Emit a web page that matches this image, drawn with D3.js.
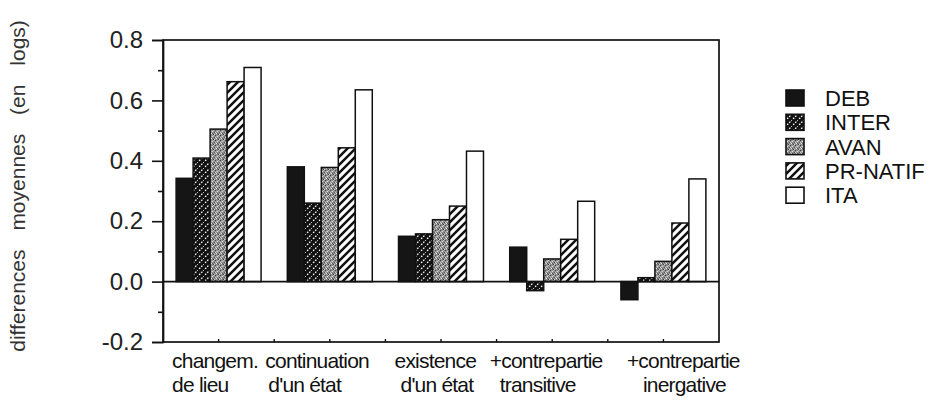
<!DOCTYPE html>
<html><head><meta charset="utf-8">
<script src="https://cdn.jsdelivr.net/npm/d3@7"></script>
<style>
html,body{margin:0;padding:0;background:#fff;}
svg{display:block;}
text{font-family:"Liberation Sans",Arial,Helvetica,sans-serif;}
</style></head>
<body>
<svg id="chart" width="934" height="401"></svg>
<script>
// ---- data ----
const categories = ["changem.|de lieu", "continuation|d'un état", "existence|d'un état", "+contrepartie|transitive", "+contrepartie|inergative"];
const series = ["DEB", "INTER", "AVAN", "PR-NATIF", "ITA"];
const DEB     = [0.342, 0.380, 0.150, 0.114, -0.060];
const INTER   = [0.409, 0.260, 0.158, -0.030, 0.013];
const AVAN    = [0.505, 0.378, 0.205, 0.075, 0.067];
const PRNATIF = [0.662, 0.443, 0.250, 0.140, 0.194];
const ITA     = [0.709, 0.635, 0.432, 0.266, 0.340];
const yTicks = [-0.2, 0.0, 0.2, 0.4, 0.6, 0.8];
const yMinorTicks = [-0.1, 0.1, 0.3, 0.5, 0.7];
const yLabel = "differences moyennes (en logs)";

const values = [DEB, INTER, AVAN, PRNATIF, ITA];
// layout offsets for the hand-placed category labels (px)
const labelShift = [-4, -22, -4, -20, 6];
const line2Indent = [0, 3, 6, 10, 16];

const svg = d3.select("#chart");
const defs = svg.append("defs");

// patterns
const pInter = defs.append("pattern").attr("id","pInter").attr("patternUnits","userSpaceOnUse")
  .attr("width",6).attr("height",6);
pInter.append("rect").attr("width",6).attr("height",6).attr("fill","#111");
pInter.append("path").attr("d","M-1,7 L7,-1").attr("stroke","#fff").attr("stroke-width",1.3)
  .attr("stroke-dasharray","1.6 1.4");

const pAvan = defs.append("pattern").attr("id","pAvan").attr("patternUnits","userSpaceOnUse")
  .attr("width",5).attr("height",5);
pAvan.append("rect").attr("width",5).attr("height",5).attr("fill","#8f8f8f");
[[0,0,"#444"],[2,1,"#ddd"],[4,2,"#555"],[1,3,"#e6e6e6"],[3,4,"#3a3a3a"],[3,0,"#bbb"],[0,2,"#c8c8c8"],[2,3,"#5a5a5a"],[4,4,"#cfcfcf"],[1,1,"#a5a5a5"]]
  .forEach(([x,y,c]) => pAvan.append("rect").attr("x",x).attr("y",y).attr("width",1).attr("height",1).attr("fill",c));

const pPr = defs.append("pattern").attr("id","pPr").attr("patternUnits","userSpaceOnUse")
  .attr("width",8).attr("height",8);
pPr.append("rect").attr("width",8).attr("height",8).attr("fill","#fff");
pPr.append("path").attr("d","M-2,10 L10,-2 M-2,2 L2,-2 M6,10 L10,6").attr("stroke","#111").attr("stroke-width",2.5);

const fills = {"DEB":"#151515","INTER":"url(#pInter)","AVAN":"url(#pAvan)","PR-NATIF":"url(#pPr)","ITA":"#fff"};

// scales
const x = d3.scaleBand().domain(categories).range([163, 719]).paddingInner(0.236).paddingOuter(0.118);
const xs = d3.scaleBand().domain(series).range([0, x.bandwidth()]);
const y = d3.scaleLinear().domain([-0.2, 0.8]).range([342, 40]);

// frame
svg.append("rect").attr("x",163).attr("y",y(0.8)).attr("width",719-163).attr("height",y(-0.2)-y(0.8))
  .attr("fill","none").attr("stroke","#111").attr("stroke-width",1.7);

// bars
const g = svg.append("g");
categories.forEach((c, ci) => {
  series.forEach((s, si) => {
    const v = values[si][ci];
    g.append("rect")
      .attr("x", x(c) + xs(s))
      .attr("width", xs.bandwidth())
      .attr("y", y(Math.max(0, v)))
      .attr("height", Math.abs(y(v) - y(0)))
      .attr("fill", fills[s]).attr("stroke","#111").attr("stroke-width",1.5);
  });
});

// zero line
svg.append("line").attr("x1",163).attr("x2",719).attr("y1",y(0)).attr("y2",y(0))
  .attr("stroke","#111").attr("stroke-width",1.7);

// y axis
const yAxis = d3.axisLeft(y).tickValues(yTicks).tickSize(11).tickPadding(9).tickFormat(d => d.toFixed(1));
const ga = svg.append("g").attr("transform","translate(163,0)").call(yAxis);
ga.select(".domain").attr("stroke","#111").attr("stroke-width",1.7);
ga.selectAll(".tick line").attr("stroke","#111").attr("stroke-width",1.6);
ga.selectAll(".tick text").attr("font-size",24).attr("fill","#222")
  .attr("font-family","'Liberation Sans',Arial,sans-serif");
const gm = svg.append("g").attr("transform","translate(163,0)")
  .call(d3.axisLeft(y).tickValues(yMinorTicks).tickSize(5).tickFormat(""));
gm.select(".domain").remove();
gm.selectAll(".tick line").attr("stroke","#111").attr("stroke-width",1.6);

// bottom small ticks at band centres and boundaries
const bTicks = [];
categories.forEach((c, i) => {
  bTicks.push(x(c) + x.bandwidth()/2);
  if (i < categories.length - 1) bTicks.push((x(c) + x.bandwidth() + x(categories[i+1]))/2);
});
svg.selectAll(".bt").data(bTicks).enter().append("line")
  .attr("x1",d=>d).attr("x2",d=>d).attr("y1",y(-0.2)).attr("y2",y(-0.2)-3)
  .attr("stroke","#111").attr("stroke-width",1.4);

// category labels
categories.forEach((c, i) => {
  const [l1, l2] = c.split("|");
  const x0 = x(c) + labelShift[i];
  svg.append("text").attr("x", x0).attr("y", 368).text(l1)
    .attr("font-size",21).attr("letter-spacing","-0.8px").attr("fill","#111");
  svg.append("text").attr("x", x0 + line2Indent[i]).attr("y", 392).text(l2)
    .attr("font-size",21).attr("letter-spacing","-0.8px").attr("fill","#111");
});

// y label
svg.append("text").attr("transform","translate(25,186) rotate(-90)")
  .attr("text-anchor","middle").attr("font-size",21).attr("fill","#333")
  .attr("word-spacing","13px").text(yLabel);

// legend
const lg = svg.append("g");
series.forEach((s, i) => {
  const yy = 98 + i * 24.3;
  lg.append("rect").attr("x",786).attr("y",yy-8).attr("width",18).attr("height",16)
    .attr("fill",fills[s]).attr("stroke","#111").attr("stroke-width",1.6);
  lg.append("text").attr("x",825).attr("y",yy).attr("dy","0.36em").text(s)
    .attr("font-size",22).attr("fill","#111");
});
</script>
</body></html>
